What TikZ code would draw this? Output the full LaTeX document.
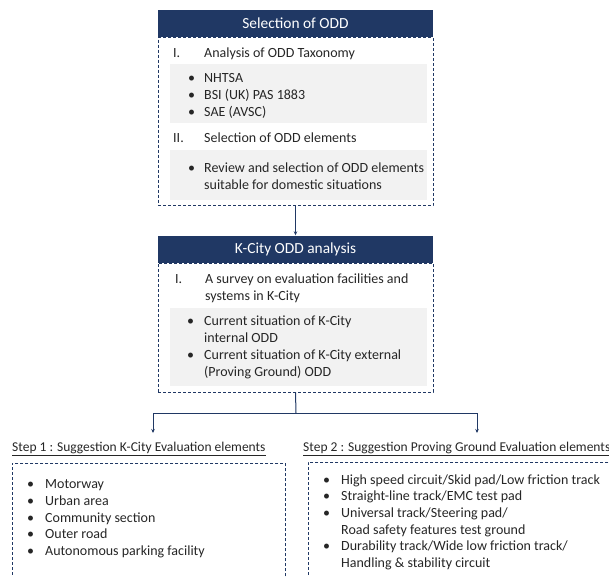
\documentclass[tikz,border=0pt]{standalone}
\usepackage{fontspec}
\setmainfont{Carlito}
\usetikzlibrary{arrows.meta}
\definecolor{navy}{HTML}{203864}
\definecolor{band}{HTML}{F2F2F2}
\definecolor{ink}{HTML}{262626}
\tikzset{
    %arrow tip of the connectors
    >={Stealth[length=4pt,width=3.5pt]},
    %navy title bar
    head/.style={fill=navy, text=white, inner sep=0pt, minimum width=275pt,
        minimum height=27pt, font=\fontsize{15.4}{17}\selectfont},
    %dashed frame round a block
    frame/.style={draw=navy, densely dashed, line width=0.8pt, inner sep=0pt},
    %grey band behind bullets
    shade/.style={fill=band, inner sep=0pt, anchor=north west},
    %one line of text
    txt/.style={anchor=base west, inner sep=0pt, text=ink, font=\fontsize{14}{16}\selectfont},
    %step caption
    steplabel/.style={txt, font=\fontsize{13.5}{15}\selectfont},
    link/.style={draw=navy, line width=1pt},
}
\begin{document}
\begin{tikzpicture}[x=1pt,y=-1pt]
    \useasboundingbox (0,0) rectangle (609,576);
    \clip (0,0) rectangle (609,576);

    % block 1
    \node[head] (hd1) at (295.5,23.5) {Selection of ODD};
    \node[frame, minimum width=275pt, minimum height=168pt, anchor=north] (bd1) at (hd1.south) {};
    \node[shade, minimum width=257pt, minimum height=59pt] (sh1) at (170,64) {};
    \node[shade, minimum width=257pt, minimum height=50pt] (sh2) at (170,150) {};
    \node[txt] (n1) at (173,57) {I.};
    \node[txt] (t1) at (204,57) {Analysis of ODD Taxonomy};
    \foreach \t [count=\i] in {NHTSA, BSI (UK) PAS 1883, SAE (AVSC)} {
        \node[txt] (d1-\i) at (188,65.5+17*\i) {•};
        \node[txt] (e1-\i) at (204,65.5+17*\i) {\t};
    }
    \node[txt] (n2) at (173,142) {II.};
    \node[txt] (t2) at (204,142) {Selection of ODD elements};
    \node[txt] (d2) at (188,172.5) {•};
    \node[txt] (e2-1) at (204,172.5) {Review and selection of ODD elements};
    \node[txt] (e2-2) at (204,189) {suitable for domestic situations};

    % block 2
    \node[head] (hd2) at (295.5,249) {K-City ODD analysis};
    \node[frame, minimum width=275pt, minimum height=129pt, anchor=north] (bd2) at (hd2.south) {};
    \node[shade, minimum width=257pt, minimum height=78pt] (sh3) at (170,308) {};
    \node[txt] (n3) at (175,283.5) {I.};
    \node[txt] (t3) at (205,283.5) {A survey on evaluation facilities and};
    \node[txt] (t4) at (205,300) {systems in K-City};
    \foreach \t [count=\i] in {Current situation of K-City, internal ODD,
        Current situation of K-City external, (Proving Ground) ODD} {
        \node[txt] (e3-\i) at (204,309+16.8*\i) {\t};
    }
    \node[txt] (d3-1) at (187,325.8) {•};
    \node[txt] (d3-2) at (187,359.4) {•};

    % steps
    \node[steplabel] (st1) at (12,451.5) {\underline{Step 1 : Suggestion K-City Evaluation elements}};
    \node[steplabel] (st2) at (303,451.5) {\underline{Step 2 : Suggestion Proving Ground Evaluation elements}};
    \node[frame, minimum width=273pt, minimum height=140pt, anchor=north west] (bx1) at (12,463) {};
    \node[frame, minimum width=320pt, minimum height=140pt, anchor=north west] (bx2) at (308,462) {};
    \foreach \t [count=\i] in {Motorway, Urban area, Community section, Outer road,
        Autonomous parking facility} {
        \node[txt] (d4-\i) at (27,471.5+16.85*\i) {•};
        \node[txt] (e4-\i) at (45,471.5+16.85*\i) {\t};
    }
    \foreach \t [count=\i] in {High speed circuit/Skid pad/Low friction track,
        Straight-line track/EMC test pad, Universal track/Steering pad/,
        Road safety features test ground, Durability track/Wide low friction track/,
        Handling \& stability circuit} {
        \node[txt] (e5-\i) at (341,467.3+16.7*\i) {\t};
    }
    \foreach \i in {1,2,3,5}
        \node[txt] (d5-\i) at (323,467.3+16.7*\i) {•};

    % connectors
    \coordinate (split) at (296,413);
    \draw[link,->] (bd1.south) -- (hd2.north);
    \draw[link] (bd2.south) -- (split);
    \draw[link,->] (split) -| (153,433);
    \draw[link,->] (split) -| (477,433);
\end{tikzpicture}
\end{document}
